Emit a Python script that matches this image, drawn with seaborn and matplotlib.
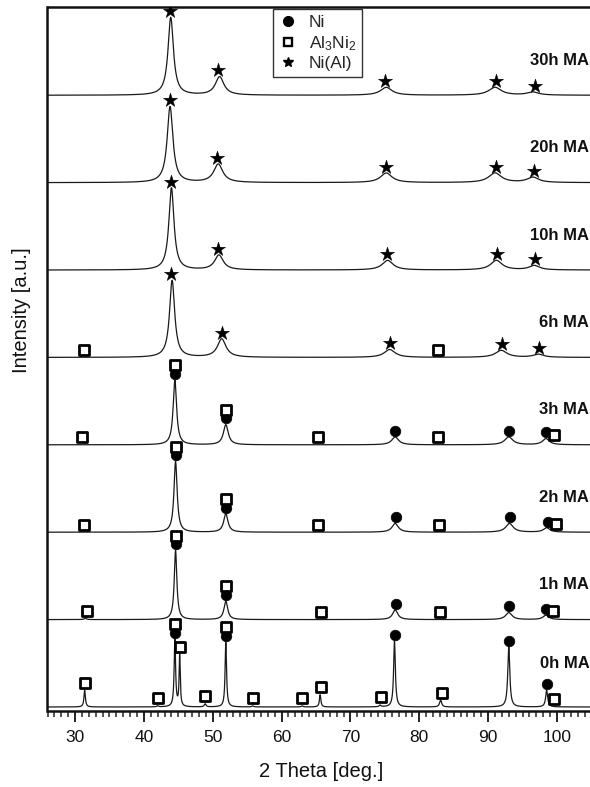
import numpy as np
import pandas as pd
import matplotlib
matplotlib.use("Agg")
import matplotlib.pyplot as plt
from matplotlib.ticker import MultipleLocator, NullLocator
from matplotlib.lines import Line2D
import seaborn as sns

sns.set_style("ticks")
plt.rcParams["font.family"] = ["Liberation Sans", "DejaVu Sans"]
plt.rcParams["mathtext.default"] = "regular"

# Milling times, bottom pattern first
samples = ["0h MA", "1h MA", "2h MA", "3h MA", "6h MA", "10h MA", "20h MA", "30h MA"]

# Reflections of each pattern: 2-theta (deg), intensity (1 = pattern spacing), FWHM (deg)
pos_0h = [31.4, 42.0, 44.5, 45.2, 48.9, 51.9, 55.8, 63.0, 65.6, 74.3, 76.4, 83.1, 93.0, 98.5]
int_0h = [0.19, 0.012, 0.77, 0.58, 0.035, 0.74, 0.012, 0.012, 0.14, 0.02, 0.755, 0.08, 0.69, 0.19]
fwhm_0h = [0.25, 0.3, 0.25, 0.2, 0.3, 0.25, 0.3, 0.3, 0.25, 0.3, 0.3, 0.35, 0.35, 0.35]

pos_1h = [31.5, 44.6, 51.9, 76.5, 93.0, 98.4]
int_1h = [0.015, 0.79, 0.21, 0.11, 0.08, 0.05]
fwhm_1h = [0.4, 0.45, 0.65, 0.9, 1.1, 1.0]

pos_2h = [44.6, 51.9, 76.5, 93.1, 98.5]
int_2h = [0.81, 0.21, 0.10, 0.10, 0.05]
fwhm_2h = [0.55, 0.75, 1.1, 1.3, 1.1]

pos_3h = [44.5, 51.9, 76.5, 93.0, 98.4]
int_3h = [0.74, 0.23, 0.09, 0.09, 0.07]
fwhm_3h = [0.6, 0.85, 1.2, 1.4, 1.2]

pos_6h = [44.1, 51.3, 75.7, 91.9, 97.3]
int_6h = [0.88, 0.21, 0.09, 0.08, 0.035]
fwhm_6h = [0.9, 1.5, 1.9, 2.0, 1.8]

pos_10h = [44.0, 50.9, 75.4, 91.2, 96.7]
int_10h = [0.94, 0.17, 0.11, 0.11, 0.05]
fwhm_10h = [0.9, 1.5, 1.9, 2.0, 1.8]

pos_20h = [43.8, 50.8, 75.2, 91.0, 96.5]
int_20h = [0.87, 0.21, 0.11, 0.11, 0.06]
fwhm_20h = [1.0, 1.6, 2.0, 2.2, 2.0]

pos_30h = [43.9, 51.0, 75.2, 91.0, 96.5]
int_30h = [0.89, 0.21, 0.09, 0.09, 0.035]
fwhm_30h = [0.95, 1.5, 2.0, 2.2, 2.0]

# Phase identification marks (2-theta) per pattern
ni_marks = {
    "0h MA": [44.5, 51.9, 76.5, 93.1, 98.6],
    "1h MA": [44.6, 51.9, 76.6, 93.0, 98.4],
    "2h MA": [44.6, 51.9, 76.6, 93.2, 98.7],
    "3h MA": [44.5, 51.9, 76.5, 93.0, 98.4],
}
al3ni2_marks = {
    "0h MA": [31.5, 42.0, 44.5, 45.2, 48.9, 51.9, 55.9, 63.0, 65.7, 74.4, 83.3, 99.6],
    "1h MA": [31.7, 44.6, 51.9, 65.7, 83.0, 99.4],
    "2h MA": [31.3, 44.6, 51.9, 65.3, 82.9, 99.9],
    "3h MA": [31.0, 44.5, 51.9, 65.3, 82.7, 99.6],
    "6h MA": [31.3, 82.7],
}
nial_marks = {
    "6h MA": [44.0, 51.3, 75.7, 92.0, 97.4],
    "10h MA": [43.9, 50.8, 75.3, 91.3, 96.8],
    "20h MA": [43.8, 50.6, 75.2, 91.1, 96.6],
    "30h MA": [43.8, 50.8, 75.0, 91.1, 96.8],
}

peaks = {
    "0h MA": (pos_0h, int_0h, fwhm_0h),
    "1h MA": (pos_1h, int_1h, fwhm_1h),
    "2h MA": (pos_2h, int_2h, fwhm_2h),
    "3h MA": (pos_3h, int_3h, fwhm_3h),
    "6h MA": (pos_6h, int_6h, fwhm_6h),
    "10h MA": (pos_10h, int_10h, fwhm_10h),
    "20h MA": (pos_20h, int_20h, fwhm_20h),
    "30h MA": (pos_30h, int_30h, fwhm_30h),
}

two_theta = np.arange(26.0, 105.0, 0.02)


def profile(x, pos, inten, fwhm):
    """Sum of Lorentzian reflections."""
    y = np.zeros_like(x)
    for p, h, w in zip(pos, inten, fwhm):
        y += h / (1.0 + ((x - p) / (w / 2.0)) ** 2)
    return y


curves = {}
frames = []
for k, name in enumerate(samples):
    y = k + profile(two_theta, *peaks[name])
    curves[name] = y
    frames.append(pd.DataFrame({"two_theta": two_theta, "intensity": y, "sample": name}))
lines = pd.concat(frames, ignore_index=True)


def top_of(name, x):
    sel = np.abs(two_theta - x) <= 0.35
    return curves[name][sel].max()


rows = []
for name, xs in ni_marks.items():
    for x in xs:
        rows.append((x, top_of(name, x) + 0.07, "Ni"))
for name, xs in al3ni2_marks.items():
    stacked = ni_marks.get(name, [])
    for x in xs:
        if any(abs(x - n) < 0.5 for n in stacked):
            y = top_of(name, x) + 0.07 + 0.10
        else:
            y = top_of(name, x) + 0.085
        rows.append((x, y, "Al3Ni2"))
for name, xs in nial_marks.items():
    for x in xs:
        rows.append((x, top_of(name, x) + 0.07, "Ni(Al)"))
marks = pd.DataFrame(rows, columns=["two_theta", "y", "phase"])

W, H = 590, 787
fig = plt.figure(figsize=(W / 100, H / 100), dpi=100)
ax = fig.add_axes([47.5 / W, 1 - 711 / H, (591.4 - 47.5) / W, 704 / H])

sns.lineplot(data=lines, x="two_theta", y="intensity", units="sample",
             estimator=None, sort=False, color="#1a1a1a", lw=0.9, ax=ax)

sns.scatterplot(data=marks[marks.phase == "Ni"], x="two_theta", y="y",
                marker="o", s=58, color="black", edgecolor="black", linewidth=0.5,
                ax=ax, zorder=4)
sns.scatterplot(data=marks[marks.phase == "Al3Ni2"], x="two_theta", y="y",
                marker="s", s=42, facecolor="white", edgecolor="black", linewidth=2.0,
                ax=ax, zorder=5)
sns.scatterplot(data=marks[marks.phase == "Ni(Al)"], x="two_theta", y="y",
                marker="*", s=115, color="black", edgecolor="black", linewidth=0.3,
                ax=ax, zorder=4)

for k, name in enumerate(samples):
    dy = 0.5 if k == 0 else 0.4
    ax.text(104.7, k + dy, name, ha="right", va="center",
            fontsize=12, fontweight="bold", color="#111111")

ax.set_xlim(26, 105)
ax.set_ylim(-0.046, 8.01)
ax.xaxis.set_major_locator(MultipleLocator(10))
ax.xaxis.set_minor_locator(MultipleLocator(1))
ax.yaxis.set_major_locator(NullLocator())
ax.tick_params(axis="x", which="major", direction="out", length=8, width=1.3,
               labelsize=12.5, pad=6, colors="#111111")
ax.tick_params(axis="x", which="minor", direction="out", length=4.5, width=1.1)

for side in ["left", "bottom", "top"]:
    ax.spines[side].set_linewidth(1.8)
    ax.spines[side].set_color("#111111")
ax.spines["right"].set_visible(False)

ax.set_xlabel("2 Theta [deg.]", fontsize=14.5, color="#111111")
ax.set_ylabel("Intensity [a.u.]", fontsize=14.5, color="#111111")
ax.xaxis.set_label_coords(0.503, -0.072)
ax.yaxis.set_label_coords(-0.03, 0.57)

handles = [
    Line2D([], [], ls="none", marker="o", ms=7, color="black"),
    Line2D([], [], ls="none", marker="s", ms=5.5, mfc="white", mec="black", mew=1.7),
    Line2D([], [], ls="none", marker="*", ms=7, color="black"),
]
labels = ["Ni", r"Al$_3$Ni$_2$", "Ni(Al)"]
leg = ax.legend(handles, labels, loc="upper center", bbox_to_anchor=(0.497, 0.997),
                frameon=True, fancybox=False, fontsize=12.5, borderaxespad=0.0,
                handlelength=1.0, handletextpad=0.7, labelspacing=0.2,
                borderpad=0.35)
leg.get_frame().set_edgecolor("black")
leg.get_frame().set_linewidth(1.0)

fig.savefig("out.png", dpi=100)
